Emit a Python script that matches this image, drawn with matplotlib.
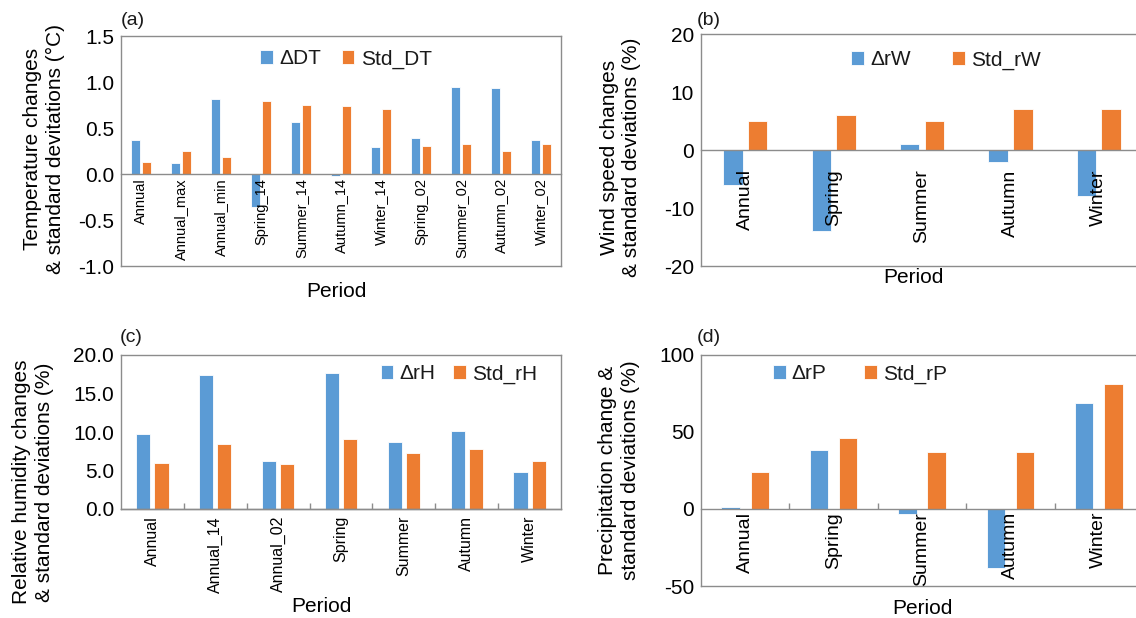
import numpy as np
import matplotlib
matplotlib.use("Agg")
import matplotlib.pyplot as plt

plt.rcParams['font.family'] = ['Liberation Sans', 'DejaVu Sans']
plt.rcParams['text.color'] = '#1a1a1a'

# (a) temperature
periods_t = ["Annual", "Annual_max", "Annual_min", "Spring_14", "Summer_14", "Autumn_14",
             "Winter_14", "Spring_02", "Summer_02", "Autumn_02", "Winter_02"]
d_dt = [0.37, 0.12, 0.81, -0.36, 0.57, -0.02, 0.29, 0.39, 0.95, 0.93, 0.37]
std_dt = [0.13, 0.25, 0.19, 0.79, 0.75, 0.74, 0.71, 0.30, 0.33, 0.25, 0.33]

# (b) wind speed
seasons = ["Annual", "Spring", "Summer", "Autumn", "Winter"]
d_rw = [-6, -14, 1, -2, -8]
std_rw = [5, 6, 5, 7, 7]

# (c) relative humidity
periods_h = ["Annual", "Annual_14", "Annual_02", "Spring", "Summer", "Autumn", "Winter"]
d_rh = [9.8, 17.4, 6.2, 17.7, 8.7, 10.1, 4.8]
std_rh = [6.0, 8.4, 5.8, 9.1, 7.3, 7.8, 6.2]

# (d) precipitation
d_rp = [1, 38, -3, -38, 69]
std_rp = [24, 46, 37, 37, 81]

BLUE = '#5B9BD5'
ORANGE = '#ED7D31'
GRAY = '#8c8c8c'
W, H = 1136, 618

fig = plt.figure(figsize=(W / 100, H / 100), dpi=100)


def px_axes(l, t, r, b):
    return fig.add_axes([l / W, 1 - b / H, (r - l) / W, (b - t) / H])


def panel(ax, labels, v1, v2, names, ylim, ystep, yfmt, width, off,
          tick_fs, tick_pad, bound_ticks, leg_xy, colsp):
    x = np.arange(len(labels))
    ax.bar(x - off, v1, width, color=BLUE, edgecolor='white', linewidth=0.6, label=names[0])
    ax.bar(x + off, v2, width, color=ORANGE, edgecolor='white', linewidth=0.6, label=names[1])
    ax.set_xlim(-0.5, len(labels) - 0.5)
    ax.set_ylim(*ylim)
    yt = np.arange(ylim[0], ylim[1] + ystep / 2, ystep)
    ax.set_yticks(yt)
    ax.set_yticklabels([yfmt % v for v in yt])
    ax.tick_params(axis='y', length=0, labelsize=15, pad=5)
    ax.tick_params(axis='x', bottom=False, labelbottom=False)
    for s in ax.spines.values():
        s.set_color(GRAY)
        s.set_linewidth(1.0)

    # category axis sits on the zero line, labels drawn over the bars
    frac = (0 - ylim[0]) / (ylim[1] - ylim[0])
    sec = ax.secondary_xaxis(frac)
    sec.set_alignment('bottom')
    sec.set_zorder(5)
    sec.set_xticks(x, labels, rotation=90, fontsize=tick_fs)
    sec.tick_params(axis='x', length=0, pad=tick_pad)
    sec.spines['bottom'].set_color(GRAY)
    sec.spines['bottom'].set_linewidth(1.0)
    if bound_ticks:
        sec.set_xticks(np.arange(0.5, len(labels) - 1, 1), minor=True)
        sec.tick_params(axis='x', which='minor', direction='in', length=4, color=GRAY, width=1)

    ax.legend(loc='center', bbox_to_anchor=(leg_xy[0] / W, 1 - leg_xy[1] / H),
              bbox_transform=fig.transFigure, ncol=2, frameon=False, fontsize=15,
              handlelength=0.6, handleheight=0.65, handletextpad=0.3, columnspacing=colsp)


ax_a = px_axes(121, 36, 561, 266)
panel(ax_a, periods_t, d_dt, std_dt, ["ΔDT", "Std_DT"], (-1.0, 1.5), 0.5, "%.1f",
      0.23, 0.14, 10.5, 3, False, (346, 59), 1.0)
ax_a.set_ylabel("Temperature changes\n& standard devitations (°C)", fontsize=15, linespacing=1.25)
ax_a.yaxis.set_label_coords(-0.127, 0.51)
ax_a.set_xlabel("Period", fontsize=15)
ax_a.xaxis.set_label_coords(0.49, -0.07)

ax_b = px_axes(701, 34, 1143, 266)
panel(ax_b, seasons, d_rw, std_rw, ["ΔrW", "Std_rW"], (-20, 20), 10, "%d",
      0.22, 0.14, 14, 14, False, (946, 60), 2.0)
ax_b.set_ylabel("Wind speed changes\n& standard deviations (%)", fontsize=15, linespacing=1.25)
ax_b.yaxis.set_label_coords(-0.135, 0.47)
ax_b.set_xlabel("Period", fontsize=15)
ax_b.xaxis.set_label_coords(0.48, -0.01)

ax_c = px_axes(121, 355, 561, 509)
panel(ax_c, periods_h, d_rh, std_rh, ["ΔrH", "Std_rH"], (0, 20), 5, "%.1f",
      0.225, 0.145, 11.5, 5, True, (459, 374), 0.87)
ax_c.set_ylabel("Relative humidity changes\n& standard deviations (%)", fontsize=15, linespacing=1.25)
ax_c.yaxis.set_label_coords(-0.152, 0.175)
ax_c.set_xlabel("Period", fontsize=15)
ax_c.xaxis.set_label_coords(0.455, -0.571)

ax_d = px_axes(701, 355, 1143, 586)
panel(ax_d, seasons, d_rp, std_rp, ["ΔrP", "Std_rP"], (-50, 100), 50, "%d",
      0.21, 0.165, 14, 2, True, (860, 374), 1.8)
ax_d.set_ylabel("Precipitation change &\nstandard deviations (%)", fontsize=15, linespacing=1.25)
ax_d.yaxis.set_label_coords(-0.139, 0.5)
ax_d.set_xlabel("Period", fontsize=15)
ax_d.xaxis.set_label_coords(0.5, -0.056)

# panel letters
for lab, (px, py) in zip(["(a)", "(b)", "(c)", "(d)"],
                         [(121, 12), (697, 12), (120, 329), (697, 329)]):
    fig.text(px / W, 1 - py / H, lab, fontsize=14, va='top', ha='left')

plt.savefig("out.png", dpi=100)
